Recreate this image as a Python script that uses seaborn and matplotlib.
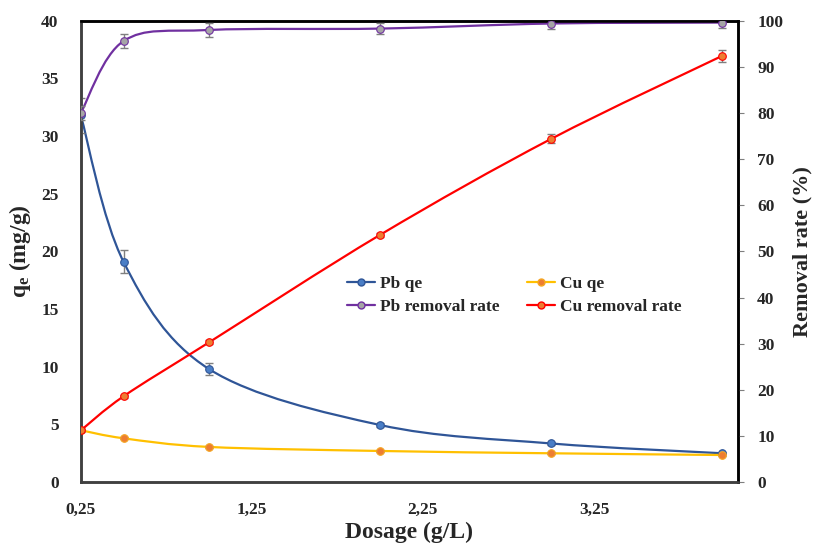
import numpy as np
import seaborn as sns
import matplotlib.pyplot as plt
import pandas as pd
from matplotlib.path import Path
from matplotlib.patches import PathPatch
from matplotlib.lines import Line2D

# dosage (g/L)
dosage = [0.25, 0.5, 1.0, 2.0, 3.0, 4.0]

# adsorption capacity (mg/g)
pb_qe = [31.8, 19.1, 9.8, 4.95, 3.35, 2.5]
pb_qe_err = [1.5, 1.0, 0.5, 0.15, 0.1, 0.1]
cu_qe = [4.5, 3.8, 3.05, 2.7, 2.5, 2.35]
cu_qe_err = [0.1, 0.1, 0.1, 0.1, 0.1, 0.1]

# removal rate (%)
pb_rem = [80.0, 95.6, 98.0, 98.3, 99.4, 99.6]
pb_rem_err = [1.5, 1.5, 1.5, 1.2, 1.2, 1.2]
cu_rem = [11.2, 18.6, 30.3, 53.6, 74.4, 92.4]
cu_rem_err = [0.3, 0.3, 0.4, 0.5, 1.0, 1.3]

xtick_vals = [0.25, 1.25, 2.25, 3.25]
xtick_labels = ["0,25", "1,25", "2,25", "3,25"]

sns.set_style("white")
plt.rcParams['font.family'] = ['Liberation Serif', 'DejaVu Serif']
plt.rcParams['font.weight'] = 'bold'
plt.rcParams['mathtext.fontset'] = 'custom'
plt.rcParams['mathtext.rm'] = 'Liberation Serif:bold'
plt.rcParams['mathtext.it'] = 'Liberation Serif:bold'


def smooth_path(x, y):
    # excel-like smoothed line: cubic bezier segments through the points
    pts = np.column_stack([x, y]).astype(float)
    verts = [pts[0]]
    codes = [Path.MOVETO]
    n = len(pts)
    for i in range(n - 1):
        p0 = pts[i - 1] if i > 0 else pts[i]
        p1 = pts[i]
        p2 = pts[i + 1]
        p3 = pts[i + 2] if i + 2 < n else pts[i + 1]
        c1 = p1 + (p2 - p0) / 6.0
        c2 = p2 - (p3 - p1) / 6.0
        verts += [c1, c2, p2]
        codes += [Path.CURVE4] * 3
    return Path(verts, codes)


fig, ax = plt.subplots(figsize=(8.16, 5.46), dpi=100)
fig.subplots_adjust(left=0.099, right=0.904, bottom=0.117, top=0.962)
ax2 = ax.twinx()

series = [
    (ax, pb_qe, pb_qe_err, '#2F5597', '#4A7EC6', '#2F5597'),
    (ax, cu_qe, cu_qe_err, '#FFC000', '#ED7D31', '#F5A623'),
    (ax2, pb_rem, pb_rem_err, '#7030A0', '#A5A5A5', '#7030A0'),
    (ax2, cu_rem, cu_rem_err, '#FF0000', '#ED7D31', '#FF0000'),
]

for a, vals, err, lc, mc, me in series:
    a.add_patch(PathPatch(smooth_path(dosage, vals), facecolor='none',
                          edgecolor=lc, lw=1.6, zorder=2))
    a.errorbar(dosage, vals, yerr=err, fmt='none', ecolor='#7F7F7F',
               elinewidth=1, capsize=3, capthick=1, zorder=3)
    df = pd.DataFrame({'x': dosage, 'y': vals})
    sns.scatterplot(data=df, x='x', y='y', ax=a, color=mc, edgecolor=me,
                    s=30, linewidth=0.8, zorder=4, legend=False)

ax.set_xlim(0.25, 4.09)
ax.set_ylim(0, 40)
ax2.set_ylim(0, 100)
ax.set_xticks(xtick_vals)
ax.set_xticklabels(xtick_labels)
ax.set_yticks(range(0, 41, 5))
ax2.set_yticks(range(0, 101, 10))

ax.tick_params(axis='both', length=0, labelsize=12.5)
ax.tick_params(axis='y', pad=16)
ax.tick_params(axis='x', pad=14)
ax2.tick_params(axis='y', length=4, color='#7F7F7F', labelsize=12.5, pad=10,
                direction='out', right=True)

for lab in ax.get_xticklabels() + ax.get_yticklabels() + ax2.get_yticklabels():
    lab.set_fontweight('bold')

ax.set_xlabel('Dosage (g/L)', fontsize=17, fontweight='bold', labelpad=3)
ax.set_ylabel(r'q$_{\mathrm{e}}$ (mg/g)', fontsize=17, fontweight='bold', labelpad=6)
ax2.set_ylabel('Removal rate (%)', fontsize=16, fontweight='bold', labelpad=7)

for a in (ax, ax2):
    for side in ['left', 'bottom']:
        a.spines[side].set_color('#404040')
        a.spines[side].set_linewidth(1.8)
    for side in ['top', 'right']:
        a.spines[side].set_color('#000000')
        a.spines[side].set_linewidth(1.8)

handles = [
    Line2D([], [], color='#2F5597', marker='o', markersize=5,
           markerfacecolor='#4A7EC6', markeredgecolor='#2F5597', lw=1.6, label='Pb qe'),
    Line2D([], [], color='#7030A0', marker='o', markersize=5,
           markerfacecolor='#A5A5A5', markeredgecolor='#7030A0', lw=1.6, label='Pb removal rate'),
    Line2D([], [], color='#FFC000', marker='o', markersize=5,
           markerfacecolor='#ED7D31', markeredgecolor='#F5A623', lw=1.6, label='Cu qe'),
    Line2D([], [], color='#FF0000', marker='o', markersize=5,
           markerfacecolor='#ED7D31', markeredgecolor='#FF0000', lw=1.6, label='Cu removal rate'),
]
ax2.legend(handles=handles, ncol=2, frameon=False, loc='center',
           bbox_to_anchor=(0.66, 0.405), prop={'weight': 'bold', 'size': 12.5},
           handlelength=1.6, handletextpad=0.3, columnspacing=1.6,
           labelspacing=0.4)

plt.savefig('out.png', dpi=100)
plt.close(fig)
